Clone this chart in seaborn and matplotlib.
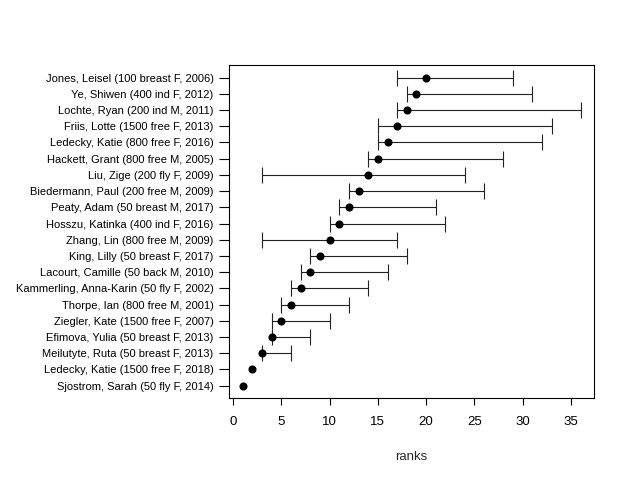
import numpy as np
import pandas as pd
import matplotlib
matplotlib.use("Agg")
import matplotlib.pyplot as plt
import seaborn as sns

# swimmers, listed top to bottom
names = [
    "Jones, Leisel (100 breast F, 2006)",
    "Ye, Shiwen (400 ind F, 2012)",
    "Lochte, Ryan (200 ind M, 2011)",
    "Friis, Lotte (1500 free F, 2013)",
    "Ledecky, Katie (800 free F, 2016)",
    "Hackett, Grant (800 free M, 2005)",
    "Liu, Zige (200 fly F, 2009)",
    "Biedermann, Paul (200 free M, 2009)",
    "Peaty, Adam (50 breast M, 2017)",
    "Hosszu, Katinka (400 ind F, 2016)",
    "Zhang, Lin (800 free M, 2009)",
    "King, Lilly (50 breast F, 2017)",
    "Lacourt, Camille (50 back M, 2010)",
    "Kammerling, Anna-Karin (50 fly F, 2002)",
    "Thorpe, Ian (800 free M, 2001)",
    "Ziegler, Kate (1500 free F, 2007)",
    "Efimova, Yulia (50 breast F, 2013)",
    "Meilutyte, Ruta (50 breast F, 2013)",
    "Ledecky, Katie (1500 free F, 2018)",
    "Sjostrom, Sarah (50 fly F, 2014)",
]
rank = [20, 19, 18, 17, 16, 15, 14, 13, 12, 11, 10, 9, 8, 7, 6, 5, 4, 3, 2, 1]
lower = [17, 18, 17, 15, 15, 14, 3, 12, 11, 10, 3, 8, 7, 6, 5, 4, 4, 3, 2, 1]
upper = [29, 31, 36, 33, 32, 28, 24, 26, 21, 22, 17, 18, 16, 14, 12, 10, 8, 6, 2, 1]

df = pd.DataFrame({"name": names, "rank": rank, "lower": lower, "upper": upper})
df["row"] = np.arange(len(df), 0, -1)

sns.set_style("ticks")
plt.rcParams["font.family"] = ["Liberation Sans", "DejaVu Sans"]

fig = plt.figure(figsize=(6.28, 4.8), dpi=100)
ax = fig.add_axes([0.3651, 0.1708, 0.5808, 0.6932])

# interval bars (skip zero-width ones)
sub = df[df["upper"] > df["lower"]]
ax.errorbar(x=sub["rank"], y=sub["row"],
            xerr=[sub["rank"] - sub["lower"], sub["upper"] - sub["rank"]],
            fmt="none", ecolor="#222222", elinewidth=0.8, capsize=5.5,
            capthick=0.8, zorder=2)

sns.scatterplot(data=df, x="rank", y="row", color="black", s=34,
                edgecolor="black", linewidth=0, ax=ax, zorder=3, legend=False)

ax.set_xlim(-0.4, 37.4)
ax.set_ylim(0.24, 20.76)
ax.set_xticks(np.arange(0, 36, 5))
ax.set_yticks(df["row"])
ax.set_yticklabels(df["name"])
ax.set_xlabel("ranks", fontsize=9.5, labelpad=16.5)
ax.set_ylabel("")
ax.tick_params(axis="x", direction="out", length=5, width=0.8,
               labelsize=9.5, colors="black", pad=8)
ax.tick_params(axis="y", direction="out", length=7, width=0.8,
               labelsize=8, colors="black", pad=4.3)
for sp in ax.spines.values():
    sp.set_visible(True)
    sp.set_color("black")
    sp.set_linewidth(0.8)

fig.savefig("out.png", dpi=100)
